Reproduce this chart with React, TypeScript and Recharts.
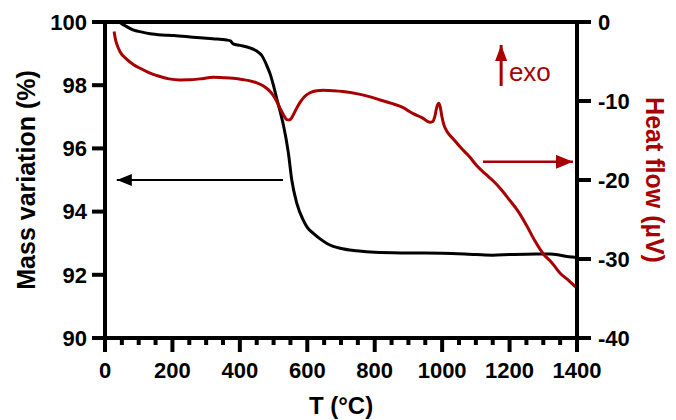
import React from "react";
import { LineChart, Line, XAxis, YAxis, ReferenceLine, ReferenceDot } from "recharts";

const FONT = '"Liberation Sans", Arial, Helvetica, sans-serif';
const RED = "#A80000";

// TGA – mass variation (%) against temperature (°C)
const tgaTemp = [
  45, 60, 83, 110, 134, 170, 203, 240, 282, 320, 361, 372, 380, 400, 430, 450, 465, 480, 490, 500,
  510, 520, 529, 544, 554, 569, 588, 600, 618, 640, 657, 677, 697, 746, 800, 900, 1000, 1100, 1150,
  1200, 1279, 1320, 1350, 1376, 1400,
];
const tgaMass = [
  99.98, 99.88, 99.75, 99.68, 99.63, 99.59, 99.57, 99.54, 99.5, 99.47, 99.43, 99.4, 99.31, 99.26,
  99.18, 99.08, 98.94, 98.62, 98.35, 97.98, 97.55, 97.15, 96.75, 95.85, 95.0, 94.26, 93.73, 93.5,
  93.31, 93.12, 93.0, 92.9, 92.84, 92.76, 92.71, 92.69, 92.68, 92.64, 92.62, 92.64, 92.66, 92.66,
  92.62, 92.57, 92.55,
];

// DSC – heat flow (µV) against temperature (°C)
const dscTemp = [
  27, 30, 35, 45, 64, 85, 104, 130, 163, 190, 222, 250, 282, 321, 350, 380, 410, 430, 450, 470, 485,
  499, 510, 519, 530, 539, 547, 554, 565, 578, 593, 608, 628, 647, 677, 706, 750, 784, 816, 850, 883,
  914, 940, 964, 972, 978, 984, 990, 995, 999, 1005, 1015, 1033, 1053, 1080, 1103, 1130, 1151, 1175,
  1201, 1226, 1251, 1275, 1299, 1326, 1350, 1375, 1400,
];
const dscHeat = [
  -1.2, -2.0, -2.8, -3.8, -4.7, -5.4, -5.86, -6.4, -6.9, -7.2, -7.34, -7.32, -7.2, -7.0, -7.05, -7.13,
  -7.3, -7.45, -7.7, -8.1, -8.6, -9.3, -10.1, -10.9, -11.8, -12.35, -12.4, -12.1, -11.2, -10.2, -9.4,
  -8.95, -8.7, -8.65, -8.7, -8.8, -9.1, -9.45, -9.87, -10.3, -10.8, -11.6, -12.1, -12.7, -12.6, -12.0,
  -10.8, -10.3, -10.9, -11.9, -13.0, -13.9, -14.8, -15.8, -17.0, -18.2, -19.3, -20.1, -21.2, -22.6,
  -24.0, -25.8, -27.7, -29.3, -30.5, -31.8, -32.7, -33.7,
];

const tempTicks = [
  0, 50, 100, 150, 200, 250, 300, 350, 400, 450, 500, 550, 600, 650, 700, 750, 800, 850, 900, 950,
  1000, 1050, 1100, 1150, 1200, 1250, 1300, 1350, 1400,
];
const massTicks = [90, 92, 94, 96, 98, 100];
const heatTicks = [-40, -30, -20, -10, 0];

const tga = tgaTemp.map((T, i) => ({ T, m: tgaMass[i] }));
const dsc = dscTemp.map((T, i) => ({ T, h: dscHeat[i] }));

const isMajor = (v: number) => v % 200 === 0;

// x ticks: long every 200 °C, short every 50 °C; labels only on the bottom axis
function BottomTick({ x, y, payload }: any) {
  const major = isMajor(payload.value);
  return (
    <g>
      <line x1={x} x2={x} y1={y} y2={y + (major ? 14 : 7)} stroke="#000" strokeWidth={4} />
      {major && (
        <text x={x} y={y + 40} textAnchor="middle" fontSize={22} fontWeight={700} fontFamily={FONT} fill="#000">
          {payload.value}
        </text>
      )}
    </g>
  );
}

function TopTick({ x, y, payload }: any) {
  const major = isMajor(payload.value);
  return <line x1={x} x2={x} y1={y} y2={y + (major ? 13 : 8)} stroke="#000" strokeWidth={4} />;
}

const arrow = (marker: string, color: string, width: number) => (p: any) => (
  <line x1={p.x1} y1={p.y1} x2={p.x2} y2={p.y2} stroke={color} strokeWidth={width} markerEnd={`url(#${marker})`} />
);

const axisLine = { stroke: "#000", strokeWidth: 4, strokeLinecap: "square" as const };
const tickLine = { stroke: "#000", strokeWidth: 4 };
const tickFont = { fill: "#000", fontSize: 22, fontWeight: 700, fontFamily: FONT };

export default function App() {
  return (
    <div style={{ margin: "-8px 0 0 -8px", width: 676, height: 420, background: "#fff" }}>
      <LineChart width={676} height={420} margin={{ top: 2, right: 4, bottom: 2, left: 5 }}>
        <defs>
          <marker id="headBlack" markerUnits="userSpaceOnUse" markerWidth={15} markerHeight={12} refX={15} refY={6} orient="auto">
            <path d="M0,0 L15,6 L0,12 Z" fill="#000" />
          </marker>
          <marker id="headRed" markerUnits="userSpaceOnUse" markerWidth={17} markerHeight={14} refX={17} refY={7} orient="auto">
            <path d="M0,0 L17,7 L0,14 Z" fill={RED} />
          </marker>
          <marker id="headUp" markerUnits="userSpaceOnUse" markerWidth={16} markerHeight={12} refX={16} refY={6} orient="auto">
            <path d="M0,0 L16,6 L0,12 Z" fill={RED} />
          </marker>
        </defs>
        <XAxis
          dataKey="T"
          type="number"
          domain={[0, 1400]}
          ticks={tempTicks}
          interval={0}
          height={80}
          tickSize={0}
          tickMargin={0}
          tickLine={false}
          axisLine={axisLine}
          tick={<BottomTick />}
          label={{ value: "T (°C)", position: "insideBottom", offset: 4, fill: "#000", fontSize: 24, fontWeight: 700, fontFamily: FONT }}
        />
        <XAxis
          xAxisId="top"
          orientation="top"
          dataKey="T"
          type="number"
          domain={[0, 1400]}
          ticks={tempTicks}
          interval={0}
          height={20}
          tickSize={0}
          tickMargin={0}
          tickLine={false}
          axisLine={axisLine}
          tick={<TopTick />}
        />
        <YAxis
          yAxisId="l"
          type="number"
          domain={[90, 100]}
          ticks={massTicks}
          interval={0}
          width={100}
          tickSize={13}
          tickMargin={5}
          axisLine={axisLine}
          tickLine={tickLine}
          tick={tickFont}
          label={{
            value: "Mass variation (%)",
            angle: -90,
            position: "insideLeft",
            offset: 21,
            fill: "#000",
            fontSize: 25,
            fontWeight: 700,
            fontFamily: FONT,
            style: { textAnchor: "middle" },
          }}
        />
        <YAxis
          yAxisId="r"
          orientation="right"
          type="number"
          domain={[-40, 0]}
          ticks={heatTicks}
          interval={0}
          width={95}
          tickSize={14}
          tickMargin={7}
          axisLine={axisLine}
          tickLine={tickLine}
          tick={tickFont}
          label={{
            value: "Heat flow (µV)",
            angle: 90,
            position: "insideRight",
            offset: 17,
            fill: RED,
            fontSize: 25,
            fontWeight: 700,
            fontFamily: FONT,
            style: { textAnchor: "middle" },
          }}
        />
        <Line isAnimationActive={false} yAxisId="l" data={tga} dataKey="m" type="monotone" stroke="#000" strokeWidth={3} dot={false} />
        <Line isAnimationActive={false} yAxisId="r" data={dsc} dataKey="h" type="monotone" stroke={RED} strokeWidth={3} dot={false} />

        {/* axis pointers and the exo direction marker */}
        <ReferenceLine yAxisId="l" segment={[{ x: 528, y: 95 }, { x: 35, y: 95 }]} shape={arrow("headBlack", "#000", 2)} />
        <ReferenceLine yAxisId="r" segment={[{ x: 1121, y: -17.7 }, { x: 1388, y: -17.7 }]} shape={arrow("headRed", RED, 2.5)} />
        <ReferenceLine yAxisId="r" segment={[{ x: 1175, y: -8.1 }, { x: 1175, y: -2.9 }]} shape={arrow("headUp", RED, 3)} />
        <ReferenceDot
          yAxisId="r"
          x={1198}
          y={-6.3}
          r={0}
          fill="none"
          stroke="none"
          label={{ value: "exo", position: "right", offset: 0, fill: RED, fontSize: 26, fontFamily: FONT }}
        />
      </LineChart>
    </div>
  );
}
